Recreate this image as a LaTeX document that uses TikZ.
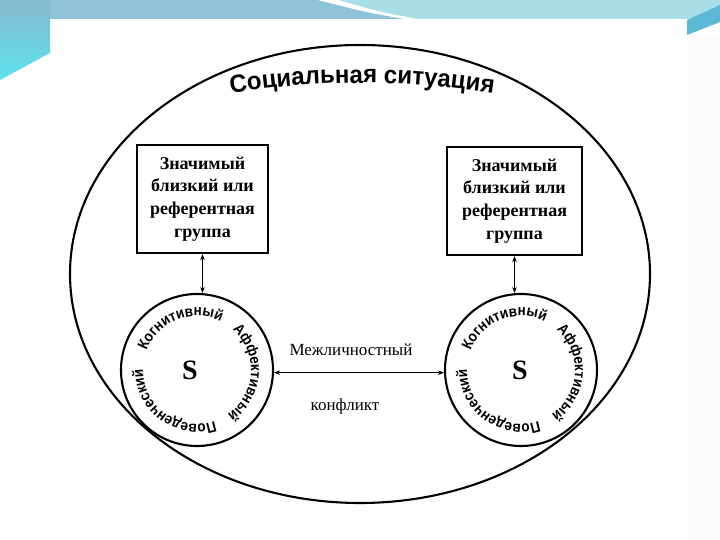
\documentclass[tikz,border=0pt]{standalone}
\usepackage{fontspec}
\setmainfont{Liberation Serif}
\setsansfont{Liberation Sans}
\newfontfamily\titlefont{Liberation Sans}[FakeStretch=0.96]
\newfontfamily\lblfam{Liberation Sans}[FakeStretch=0.9]
\newcommand\lblfont{\lblfam\bfseries\fontsize{15}{15}\selectfont}
\usetikzlibrary{decorations.text, arrows.meta}
\definecolor{bandblue}{HTML}{8EC3DA}
\definecolor{bandcyan}{HTML}{A8DFE7}
\definecolor{cornerblue}{HTML}{5CB9D6}
\definecolor{leftblue}{HTML}{86B8CF}
\definecolor{leftcyan}{HTML}{5DE3EE}
\definecolor{faint}{HTML}{FBFBFB}
\begin{document}
\begin{tikzpicture}[x=1pt,y=1pt,
  bigoval/.style={draw, line width=2.1pt},
  refbox/.style={draw, line width=2.4pt, minimum width=131pt, minimum height=108pt,
    align=center, inner sep=0pt, font=\bfseries\fontsize{18}{22.7}\selectfont},
  selfcirc/.style={draw, circle, line width=2.1pt, minimum size=152pt, inner sep=0pt},
  link/.style={line width=0.8pt, {Stealth[length=6pt,width=4.5pt]}-{Stealth[length=6pt,width=4.5pt]}},
  conflict/.style={font=\fontsize{17}{17}\selectfont, inner sep=0pt},
  bigS/.style={font=\bfseries\fontsize{28}{28}\selectfont, inner sep=0pt},
  alongtext/.style={decorate, decoration={text along path, text align=center,
    text format delimiters={|}{|}, text={#1}}},
  ]
\useasboundingbox (0,0) rectangle (720,540);
% background
\fill[white] (0,0) rectangle (720,540);
\fill[faint] (688,0) rectangle (720,505);
\fill[bandblue] (0,521) rectangle (720,540);
\fill[bandcyan] (338,540) -- (720,540) -- (720,521) -- (418,521) .. controls (380,528) .. (338,540) -- cycle;
\fill[white] (318,540) -- (338,540) .. controls (380,528) .. (418,521) -- (404,521) .. controls (365,528) .. (318,540) -- cycle;
\shade[top color=leftblue, bottom color=leftcyan] (0,540) -- (50,540) -- (50,487) -- (0,460) -- cycle;
\fill[cornerblue] (687,520) -- (720,535) -- (720,518) -- (687,505) -- cycle;
% social situation
\draw[bigoval] (360,266) ellipse [x radius=290, y radius=229];
\path[alongtext={|\titlefont\bfseries\fontsize{25}{25}\selectfont|Социальная ситуация}]
  (362,-393) ++(111:850) arc[start angle=111, end angle=69, radius=850];
% boxes
\node[refbox] (lbox) at (202.5,341) {Значимый\\близкий или\\референтная\\группа};
\node[refbox, minimum width=135pt] (rbox) at (514.5,339) {Значимый\\близкий или\\референтная\\группа};
% subjects
\node[selfcirc] (lself) at (197,170) {};
\node[selfcirc] (rself) at (521,170) {};
\node[bigS] (ls) at (190,170) {S};
\node[bigS] (rs) at (520,170) {S};
\foreach \c in {lself, rself} {
  \path[alongtext={|\lblfont|Когнитивный}]
    (\c.center) ++(164:54) arc[start angle=164, end angle=59, radius=54];
  \path[alongtext={|\lblfont|Аффективный}]
    (\c.center) ++(56:54) arc[start angle=56, end angle=-63, radius=54];
  \path[alongtext={|\lblfont|Поведенческий}]
    (\c.center) ++(-60:54) arc[start angle=-60, end angle=-192, radius=54];
}
% connectors
\draw[link] (lbox.south) -- (lbox.south |- lself.north);
\draw[link] (rbox.south) -- (rbox.south |- rself.north);
\draw[link] (lself.-2) -- (rself.182);
\node[conflict, anchor=base] (m1) at (351,184) {Межличностный};
\node[conflict, anchor=base] (m2) at (345,129) {конфликт};
\end{tikzpicture}
\end{document}
